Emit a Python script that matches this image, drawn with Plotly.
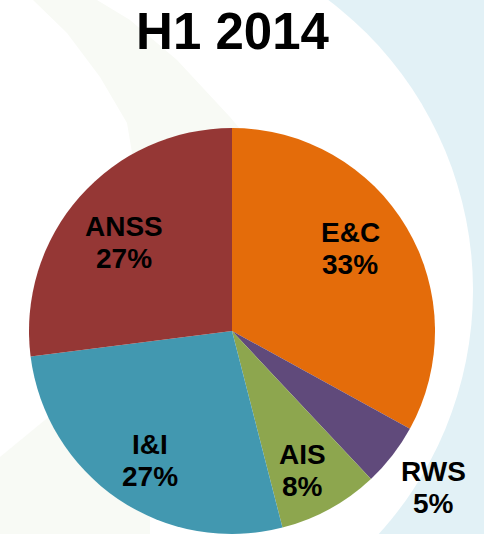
import math
import plotly.graph_objects as go

# ---- data ----
categories = ["E&C", "RWS", "AIS", "I&I", "ANSS"]
values = [33, 5, 8, 27, 27]
colors = ["#E46C0A", "#604A7B", "#8DA64E", "#4298B0", "#953735"]
title_text = "H1 2014"

# ---- style / label placement (relative to pie geometry) ----
label_rfrac = [0.709, 1.256, 0.771, 0.753, 0.688]   # radial position as fraction of radius
label_dtheta = [-4.2, 0.0, 2.2, -1.8, -2.1]          # angular tweak (deg) from slice mid-angle

W, H = 484, 534
FONT = "Arial, Liberation Sans, sans-serif"
DOM_X = [29 / W, 435 / W]
DOM_Y = [0, 406 / H]

fig = go.Figure()

fig.add_trace(go.Pie(
    labels=categories,
    values=values,
    sort=False,
    direction="clockwise",
    rotation=0,
    marker=dict(colors=colors, line=dict(width=0)),
    textinfo="none",
    showlegend=False,
    hoverinfo="label+percent",
    domain=dict(x=DOM_X, y=DOM_Y),
))

# label annotations computed from the data (slice mid-angles)
cx = (DOM_X[0] + DOM_X[1]) / 2 * W
cy = (DOM_Y[0] + DOM_Y[1]) / 2 * H          # from bottom, px
r = min((DOM_X[1] - DOM_X[0]) * W, (DOM_Y[1] - DOM_Y[0]) * H) / 2
total = sum(values)
annotations = []
cum = 0.0
for lab, v, rf, dt in zip(categories, values, label_rfrac, label_dtheta):
    mid = (cum + v / 2) / total * 360 + dt
    cum += v
    x = cx + r * rf * math.sin(math.radians(mid))
    y = cy + r * rf * math.cos(math.radians(mid))
    pct = f"{round(v / total * 100)}%"
    for txt, ys in ((lab, 16), (pct, -16)):
        annotations.append(dict(
            x=x / W, y=y / H, xref="paper", yref="paper",
            text=txt, showarrow=False, xanchor="center", yanchor="middle",
            yshift=ys,
            font=dict(family=FONT, size=28, color="black", weight="bold"),
        ))

# background decoration (not data)
shapes = [
    dict(type="circle", xref="x", yref="y", x0=110 - 363, x1=110 + 363,
         y0=290 - 363, y1=290 + 363, fillcolor="white", line=dict(width=0),
         layer="below"),
    dict(type="path", xref="x", yref="y",
         path="M 33,0 L 67,33 L 100,77 L 127,123 L 140,200 L 260,200 L 245,135 "
              "L 230,117 L 177,60 L 130,20 L 97,0 Z",
         fillcolor="#F8FAF5", line=dict(width=0), layer="below"),
    dict(type="path", xref="x", yref="y",
         path="M 0,457 L 45,420 L 150,340 L 150,534 L 0,534 Z",
         fillcolor="#F8FAF5", line=dict(width=0), layer="below"),
]

fig.update_layout(
    width=W, height=H,
    margin=dict(l=0, r=0, t=0, b=0),
    paper_bgcolor="#E2F1F6",
    plot_bgcolor="rgba(0,0,0,0)",
    xaxis=dict(range=[0, W], visible=False, fixedrange=True),
    yaxis=dict(range=[H, 0], visible=False, fixedrange=True),
    shapes=shapes,
    annotations=annotations,
    title=dict(text=title_text, x=232.5 / W, xanchor="center",
               y=1 - 31 / H, yanchor="middle",
               font=dict(family=FONT, size=51, color="black", weight="bold")),
)

fig.write_html(
    "out.html",
    config={"displayModeBar": False},
    post_script="document.body.style.margin='0px';document.body.style.overflow='hidden';",
)
